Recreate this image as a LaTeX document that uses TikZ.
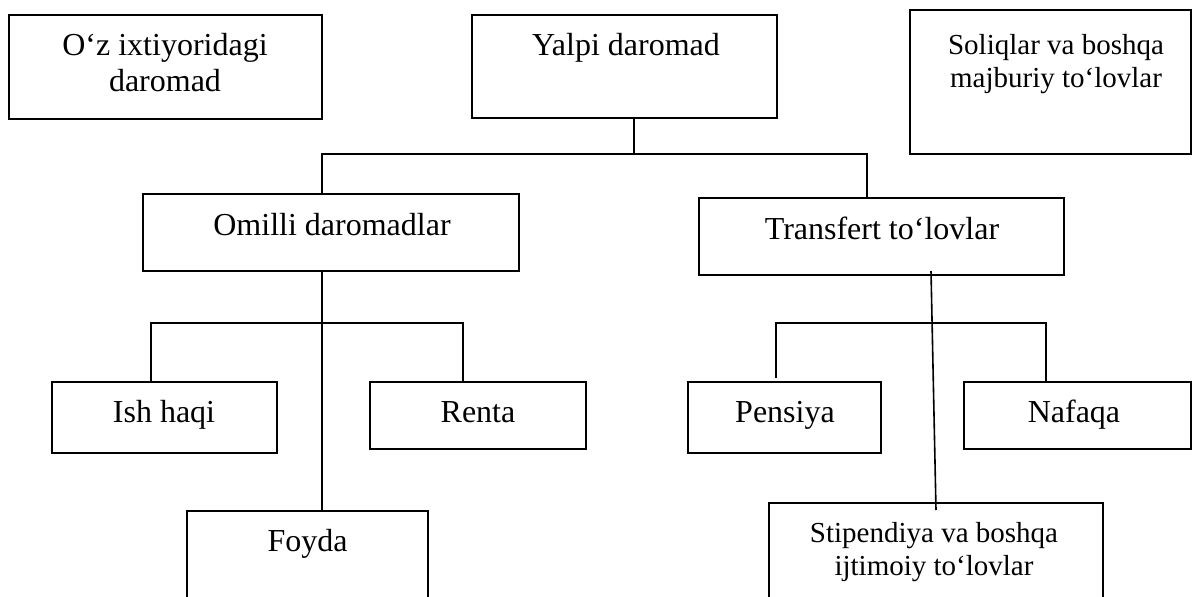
\documentclass[tikz,border=0pt]{standalone}
\usepackage{fontspec}
\setmainfont{Liberation Serif}
\tikzset{
  box/.style={draw=black, line width=1.6pt, inner sep=0pt, outer sep=0pt, rectangle},
  txt/.style={inner sep=0pt, outer sep=0pt, align=center, font=\fontsize{32}{36}\selectfont, text=black},
  smalltxt/.style={inner sep=0pt, outer sep=0pt, align=center, font=\fontsize{29}{33}\selectfont, text=black},
  link/.style={draw=black, line width=1.6pt},
}
\begin{document}
\begin{tikzpicture}[x=1pt, y=-1pt]
\useasboundingbox (0,0) rectangle (1192,597);
\clip (0,0) rectangle (1192,597);
\fill[white] (0,0) rectangle (1192,597);
% boxes
\node[box, minimum width=313pt, minimum height=104pt] (ozb) at (165.5,67) {};
\node[box, minimum width=305pt, minimum height=103pt] (yalpi) at (624.5,66.5) {};
\node[box, minimum width=281pt, minimum height=144pt] (soliq) at (1050.5,82) {};
\node[box, minimum width=376pt, minimum height=77pt] (omilli) at (331,232.5) {};
\node[box, minimum width=365pt, minimum height=77pt] (transfert) at (881.5,236.5) {};
\node[box, minimum width=225pt, minimum height=71pt] (ish) at (164.5,417.5) {};
\node[box, minimum width=216pt, minimum height=67pt] (renta) at (478,415.5) {};
\node[box, minimum width=193pt, minimum height=71pt] (pensiya) at (784.5,417.5) {};
\node[box, minimum width=227pt, minimum height=67pt] (nafaqa) at (1077.5,415.5) {};
\node[box, minimum width=241pt, minimum height=109pt] (foyda) at (307.5,565.5) {};
\node[box, minimum width=334pt, minimum height=117pt] (stip) at (936,561.5) {};
% texts (anchor=base is the baseline of the last line)
\node[txt, anchor=base] (ozbT) at (165,91.7) {O‘z ixtiyoridagi\\daromad};
\node[txt, anchor=base] (yalpiT) at (626,55) {Yalpi daromad};
\node[smalltxt, anchor=base] (soliqT) at (1056,87) {Soliqlar va boshqa\\majburiy to‘lovlar};
\node[txt, anchor=base] (omilliT) at (332,235) {Omilli daromadlar};
\node[txt, anchor=base] (transfertT) at (882,239) {Transfert to‘lovlar};
\node[txt, anchor=base] (ishT) at (164,422.7) {Ish haqi};
\node[txt, anchor=base] (rentaT) at (478,422.7) {Renta};
\node[txt, anchor=base] (pensiyaT) at (785,422.7) {Pensiya};
\node[txt, anchor=base] (nafaqaT) at (1074,422.7) {Nafaqa};
\node[txt, anchor=base] (foydaT) at (307.5,551.7) {Foyda};
\node[smalltxt, anchor=base] (stipT) at (934,575) {Stipendiya va boshqa\\ijtimoiy to‘lovlar};
% connector points
\coordinate (busL) at (322,154);
\coordinate (busR) at (867,154);
\coordinate (trTop) at (931,271);
\coordinate (trBot) at (936,510);
% connectors
\draw[link] ([xshift=9.5pt]yalpi.south) -- ([xshift=9.5pt]yalpi.south |- busL);
\draw[link] (omilli.north -| busL) -- (busL) -- (busR) -- (transfert.north -| busR);
\draw[link] (omilli.south -| busL) -- (foyda.north -| busL);
\draw[link] (ish.north -| 151,0) -- (151,323) -- (463,323) -- (renta.north -| 463,0);
\draw[link] (trTop) -- (trBot);
\draw[link] (776,378) -- (776,323) -- (1046,323) -- (nafaqa.north -| 1046,0);
\end{tikzpicture}
\end{document}
